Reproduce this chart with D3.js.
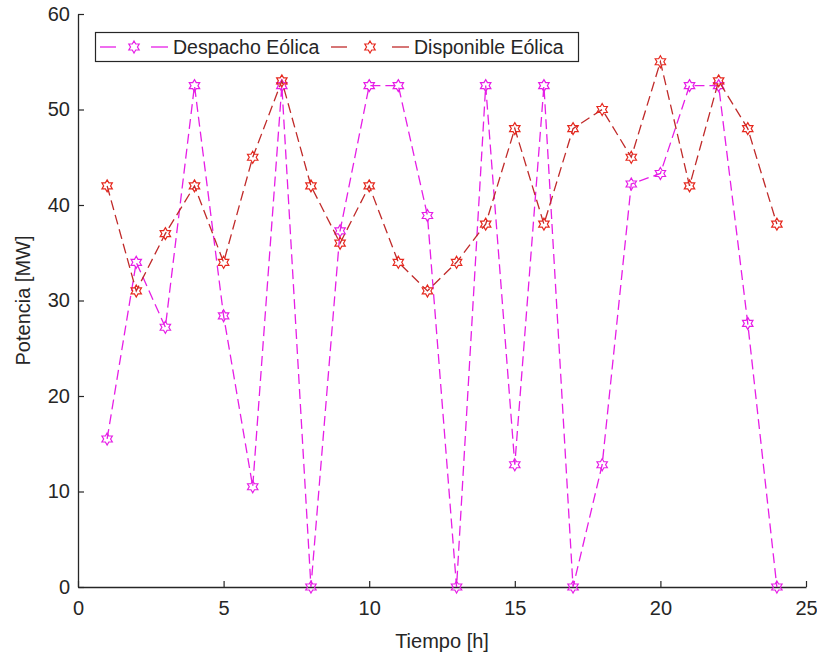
<!DOCTYPE html>
<html>
<head>
<meta charset="utf-8">
<script src="https://cdn.jsdelivr.net/npm/d3@7"></script>
<style>
  body { margin: 0; background: #fff; }
  text { font-family: "Liberation Sans", Arial, sans-serif; fill: #262626; }
</style>
</head>
<body>
<svg id="chart" width="817" height="664"></svg>
<script>
// data
var hours = [1,2,3,4,5,6,7,8,9,10,11,12,13,14,15,16,17,18,19,20,21,22,23,24];
var despacho = [15.5,34,27.2,52.5,28.4,10.5,52.5,0,37.3,52.5,52.5,38.9,0,52.5,12.8,52.5,0,12.8,42.2,43.3,52.5,52.5,27.6,0];
var disponible = [42,31,37,42,34,45,53,42,36,42,34,31,34,38,48,38,48,50,45,55,42,53,48,38];
var xTicks = [0,5,10,15,20,25];
var yTicks = [0,10,20,30,40,50,60];
var seriesNames = ["Despacho Eólica", "Disponible Eólica"];

var magenta = "#e61ee6";
var redLine = "#c02a2a";
var redMark = "#e6281e";

var svg = d3.select("#chart");
var plotLeft = 78, plotRight = 806, plotTop = 14, plotBottom = 587;

var x = d3.scaleLinear().domain([0, 25]).range([plotLeft, plotRight]);
var y = d3.scaleLinear().domain([0, 60]).range([plotBottom, plotTop]);

// hexagram marker path
function hexagram(r) {
    var pts = [];
    for (var i = 0; i < 12; i++) {
        var rad = (i % 2 == 0) ? r : r / Math.sqrt(3);
        var a = Math.PI / 6 * i - Math.PI / 2;
        pts.push([rad * Math.cos(a), rad * Math.sin(a)]);
    }
    return "M" + pts.map(function(p) { return p[0].toFixed(2) + "," + p[1].toFixed(2); }).join("L") + "Z";
}
var markPath = hexagram(6);

//Axes (ticks point inward, like matlab)
var xAxis = d3.axisBottom(x).tickValues(xTicks).tickSize(-6).tickPadding(14).tickSizeOuter(0);
var yAxis = d3.axisLeft(y).tickValues(yTicks).tickSize(-6).tickPadding(8).tickSizeOuter(0);

var gx = svg.append("g").attr("transform", "translate(0," + plotBottom + ")").call(xAxis);
var gy = svg.append("g").attr("transform", "translate(" + plotLeft + ",0)").call(yAxis);
[gx, gy].forEach(function(g) {
    g.select(".domain").attr("stroke", "#262626").attr("stroke-width", 1.3);
    g.selectAll(".tick line").attr("stroke", "#262626").attr("stroke-width", 1.2);
    g.selectAll(".tick text").style("font-size", "20px").style("fill", "#262626")
        .style("font-family", "'Liberation Sans', Arial, sans-serif");
});

svg.append("text")
    .attr("x", (plotLeft + plotRight) / 2).attr("y", 648)
    .attr("text-anchor", "middle").style("font-size", "20px")
    .text("Tiempo [h]");

svg.append("text")
    .attr("transform", "translate(30," + (plotTop + plotBottom) / 2 + ") rotate(-90)")
    .attr("text-anchor", "middle").style("font-size", "20px")
    .text("Potencia [MW]");

//Draw series
function drawSeries(values, lineColor, markColor) {
    var pts = hours.map(function(h, i) { return [h, values[i]]; });
    var line = d3.line().x(function(d) { return x(d[0]); }).y(function(d) { return y(d[1]); });
    svg.append("path")
        .attr("d", line(pts))
        .attr("fill", "none")
        .attr("stroke", lineColor)
        .attr("stroke-width", 1.3)
        .attr("stroke-dasharray", "10,5");
    svg.append("g")
        .selectAll("path")
        .data(pts)
        .enter().append("path")
        .attr("d", markPath)
        .attr("transform", function(d) { return "translate(" + x(d[0]) + "," + y(d[1]) + ")"; })
        .attr("fill", "none")
        .attr("stroke", markColor)
        .attr("stroke-width", 1.2);
}
drawSeries(despacho, magenta, magenta);
drawSeries(disponible, redLine, redMark);

//Legend
var leg = svg.append("g");
leg.append("rect")
    .attr("x", 95.5).attr("y", 32.5).attr("width", 483).attr("height", 29)
    .attr("fill", "#fff").attr("stroke", "#262626").attr("stroke-width", 1.2);

var legItems = [
    {name: seriesNames[0], x0: 100, tx: 173, line: magenta, mark: magenta},
    {name: seriesNames[1], x0: 331, tx: 414, line: redLine, mark: redMark}
];
legItems.forEach(function(d) {
    var cy = 47;
    leg.append("line").attr("x1", d.x0).attr("x2", d.x0 + 16).attr("y1", cy).attr("y2", cy)
        .attr("stroke", d.line).attr("stroke-width", 1.3);
    leg.append("line").attr("x1", d.tx - 22).attr("x2", d.tx - 5).attr("y1", cy).attr("y2", cy)
        .attr("stroke", d.line).attr("stroke-width", 1.3);
    leg.append("path").attr("d", markPath)
        .attr("transform", "translate(" + ((d.x0 + d.tx - 5) / 2) + "," + cy + ")")
        .attr("fill", "none").attr("stroke", d.mark).attr("stroke-width", 1.2);
    leg.append("text").attr("x", d.tx).attr("y", cy + 7)
        .style("font-size", "19.5px").text(d.name);
});
</script>
</body>
</html>
